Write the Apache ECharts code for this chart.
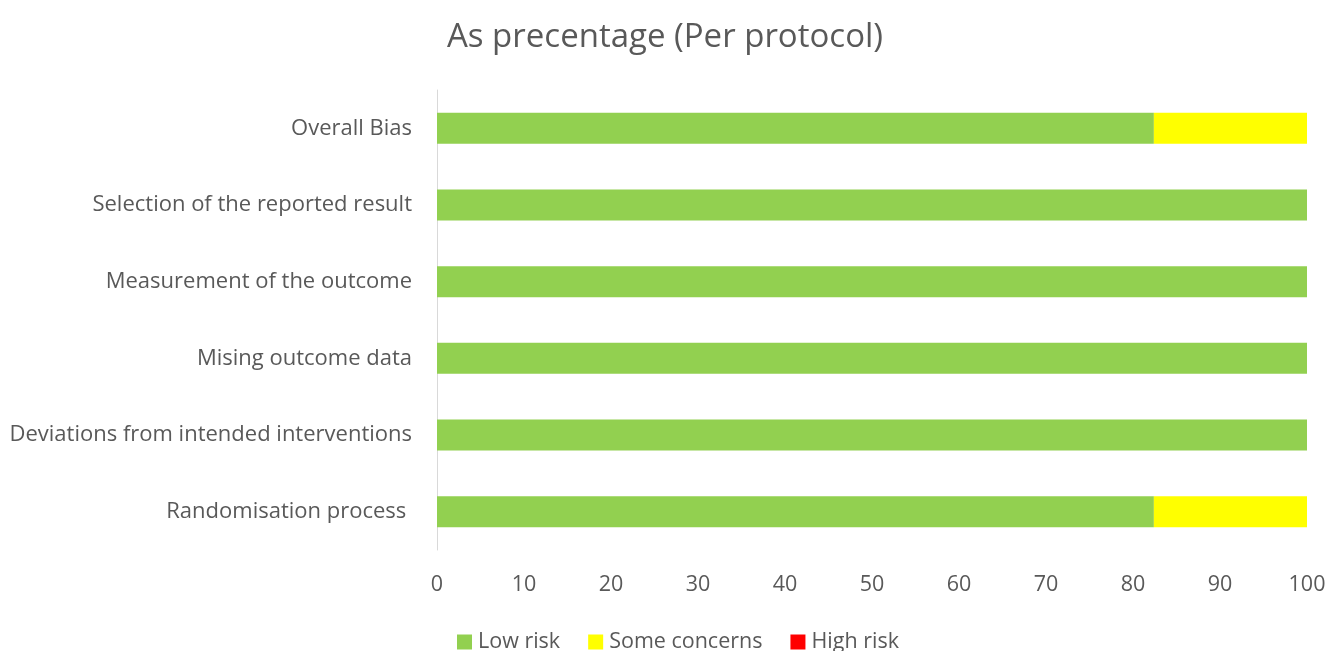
<!DOCTYPE html>
<html><head><meta charset="utf-8">
<script src="https://cdn.jsdelivr.net/npm/echarts@6/dist/echarts.min.js"></script>
<style>html,body{margin:0;padding:0;background:#fff}#c{width:1329px;height:651px}</style>
</head><body><div id="c"></div>
<script>
const categories = ["Randomisation process ", "Deviations from intended interventions", "Mising outcome data", "Measurement of the outcome", "Selection of the reported result", "Overall Bias"];
const lowRisk = [82.4, 100, 100, 100, 100, 82.4];
const someConcerns = [17.6, 0, 0, 0, 0, 17.6];
const highRisk = [0, 0, 0, 0, 0, 0];
const xTicks = [0, 10, 20, 30, 40, 50, 60, 70, 80, 90, 100];

const font = '"Open Sans", sans-serif';
const chart = echarts.init(document.getElementById('c'), null, {renderer: 'canvas'});
chart.setOption({
  animation: false,
  title: {text: 'As precentage (Per protocol)', left: 660, top: 16, textAlign: 'center',
    textStyle: {fontFamily: font, fontSize: 33, fontWeight: 'normal', color: '#595959'}},
  legend: {top: 626, left: 452, itemWidth: 15, itemHeight: 15, itemGap: 28, icon: 'rect',
    textStyle: {fontFamily: font, fontSize: 21.5, color: '#595959', padding: [0,0,0,1]},
    data: ['Low risk', 'Some concerns', 'High risk']},
  grid: {left: 437, right: 22, top: 90, bottom: 101, containLabel: false},
  xAxis: {type: 'value', min: xTicks[0], max: xTicks[xTicks.length-1], interval: 10,
    axisLine: {show: false}, axisTick: {show: false}, splitLine: {show: false},
    axisLabel: {fontFamily: font, fontSize: 21.5, color: '#595959', margin: 24}},
  yAxis: {type: 'category', data: categories,
    axisLine: {show: true, lineStyle: {color: '#d9d9d9', width: 1}}, axisTick: {show: false},
    axisLabel: {fontFamily: font, fontSize: 22, color: '#595959', margin: 25}},
  series: [
    {name: 'Low risk', type: 'bar', stack: 's', data: lowRisk, barWidth: 31, itemStyle: {color: '#92D050'}},
    {name: 'Some concerns', type: 'bar', stack: 's', data: someConcerns, itemStyle: {color: '#FFFF00'}},
    {name: 'High risk', type: 'bar', stack: 's', data: highRisk, itemStyle: {color: '#FF0000'}}
  ]
});
</script></body></html>
